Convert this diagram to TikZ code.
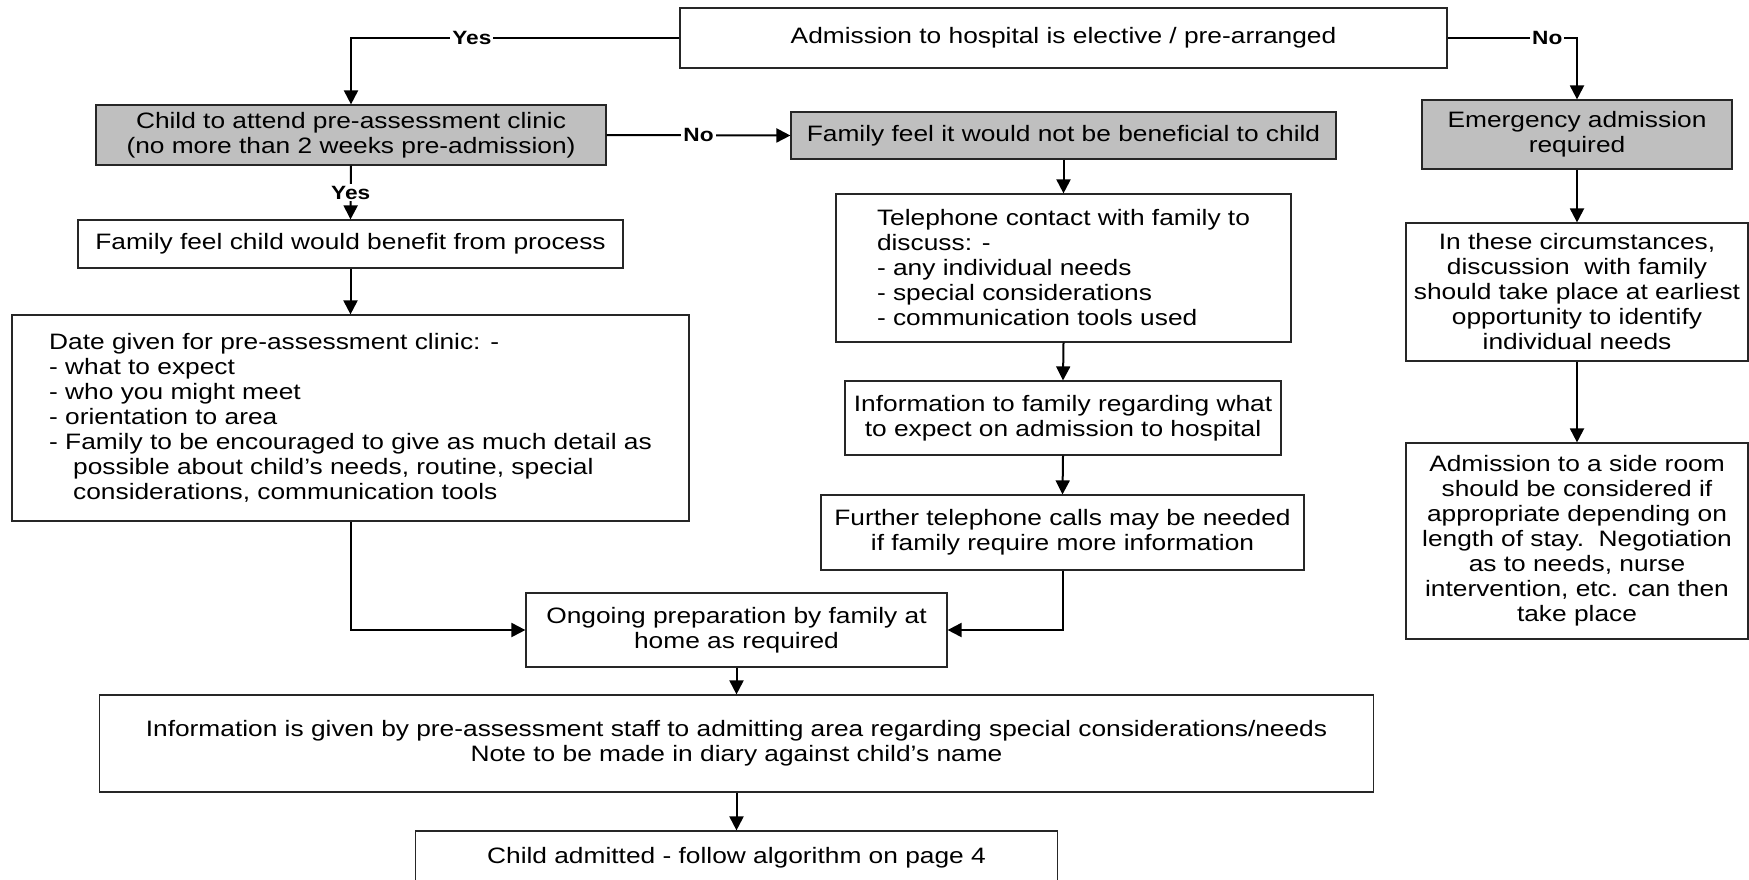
\documentclass[tikz,border=0pt]{standalone}
\usepackage{fontspec}
\setmainfont{Liberation Sans}[FakeStretch=1.18]
\usetikzlibrary{arrows.meta}

\begin{document}
\begin{tikzpicture}[x=0.5pt, y=-0.5pt, line width=1pt,
	box/.style={draw=black!85, line width=0.6pt, fill=white, inner sep=1pt, align=center,
		font=\fontsize{11.15}{12.5}\selectfont},
	greybox/.style={box, fill=black!25},
	lbl/.style={fill=white, inner sep=1pt, font=\fontsize{9.6}{10}\selectfont\bfseries},
	arr/.style={-{Triangle[length=7pt,width=7pt]}}]
	\useasboundingbox (0,0) rectangle (1749,879);
	
	% top row
	\node[box, minimum width=383.5pt, minimum height=30pt] (elective) at (1063.5,38) {Admission to hospital is elective / pre-arranged};
	\node[greybox, minimum width=255pt, minimum height=30pt] (clinic) at (351,135) {Child to attend pre-assessment clinic\\(no more than 2 weeks pre-admission)};
	\node[greybox, minimum width=272.5pt, minimum height=23.5pt] (notben) at (1063.5,135.5) {Family feel it would not be beneficial to child};
	\node[greybox, minimum width=155pt, minimum height=34.5pt] (emerg) at (1577,134.5) {Emergency admission\\required};
	
	% left column
	\node[box, minimum width=272.5pt, minimum height=24pt] (benefit) at (350.5,244) {Family feel child would benefit from process};
	\node[box, align=left, minimum width=338.5pt, minimum height=103pt] (datebox) at (350.5,418) {Date given for pre-assessment clinic: -\\
		- what to expect\\
		- who you might meet\\
		- orientation to area\\
		- Family to be encouraged to give as much detail as\\
		\hspace*{12pt}possible about child’s needs, routine, special\\
		\hspace*{12pt}considerations, communication tools};
	
	% middle column
	\node[box, align=left, minimum width=227.5pt, minimum height=74pt] (phone) at (1063.5,268) {Telephone contact with family to\\
		discuss: -\\
		- any individual needs\\
		- special considerations\\
		- communication tools used};
	\node[box, minimum width=218pt, minimum height=37pt] (info) at (1063,418) {Information to family regarding what\\to expect on admission to hospital};
	\node[box, minimum width=241.5pt, minimum height=37.5pt] (further) at (1062.5,532.5) {Further telephone calls may be needed\\if family require more information};
	
	% right column
	\node[box, minimum width=171pt, minimum height=69pt] (circ) at (1577,292) {In these circumstances,\\discussion\ \ with family\\should take place at earliest\\opportunity to identify\\individual needs};
	\node[box, minimum width=171pt, minimum height=98pt] (sideroom) at (1577,541) {Admission to a side room\\should be considered if\\appropriate depending on\\length of stay.\ \ Negotiation\\as to needs, nurse\\intervention, etc. can then\\take place};
	
	% bottom
	\node[box, minimum width=210.5pt, minimum height=37pt] (ongoing) at (736.5,630) {Ongoing preparation by family at\\home as required};
	\node[box, minimum width=637pt, minimum height=48.5pt] (given) at (736.5,743.5) {Information is given by pre-assessment staff to admitting area regarding special considerations/needs\\Note to be made in diary against child’s name};
	\node[box, minimum width=321pt, minimum height=27pt] (admitted) at (736.5,858) {Child admitted - follow algorithm on page 4};
	
	% connectors
	\draw[arr] (elective.west) -| node[lbl, pos=0.316] {Yes} (clinic.north);
	\draw[arr] (elective.east) -| node[lbl, pos=0.385] {No} (emerg.north);
	\draw[arr] (clinic.south) -- node[lbl] {Yes} (benefit.north);
	\draw[arr] (clinic.east) -- node[lbl] {No} (notben.west);
	\draw[arr] (benefit.south) -- (datebox.north);
	\draw[arr] (datebox.south) |- (ongoing.west);
	\draw[arr] (notben.south) -- (phone.north);
	\draw[arr] (phone.south) -- (info.north);
	\draw[arr] (info.south) -- (further.north);
	\draw[arr] (further.south) |- (ongoing.east);
	\draw[arr] (emerg.south) -- (circ.north);
	\draw[arr] (circ.south) -- (sideroom.north);
	\draw[arr] (ongoing.south) -- (given.north);
	\draw[arr] (given.south) -- (admitted.north);
\end{tikzpicture}
\end{document}
